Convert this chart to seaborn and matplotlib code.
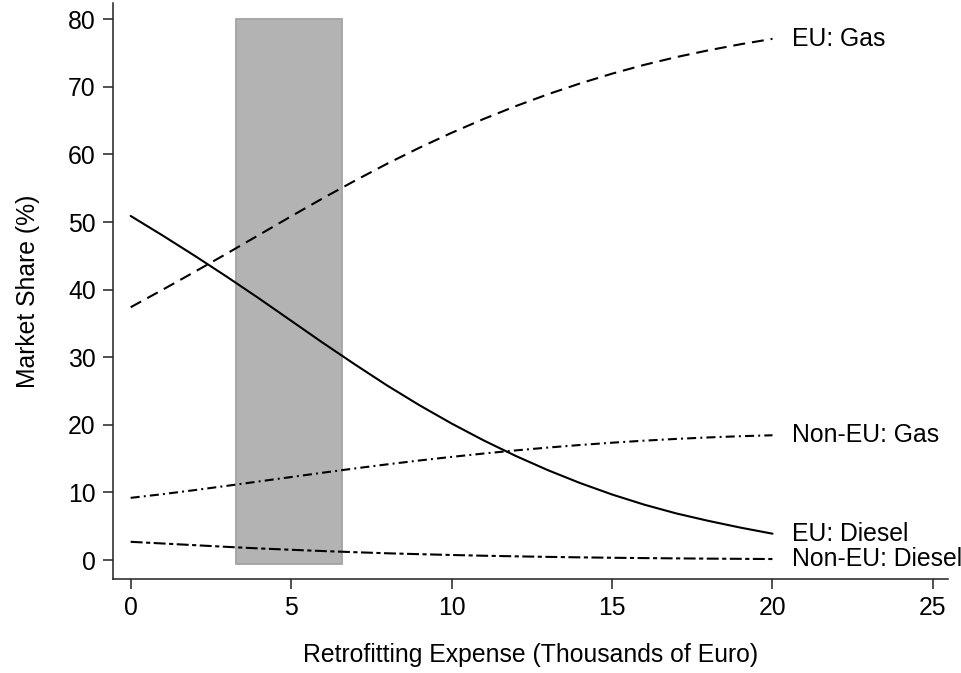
import matplotlib
matplotlib.use("Agg")
import matplotlib.pyplot as plt
from matplotlib.patches import Rectangle
import pandas as pd
import seaborn as sns

# Retrofitting expense grid (thousands of euro)
expense = list(range(0, 21))

# Simulated market shares (%)
eu_gas = [37.4, 40.0, 42.65, 45.35, 48.1, 50.85, 53.55, 56.15, 58.65, 61.0, 63.2,
          65.25, 67.15, 68.9, 70.5, 71.95, 73.25, 74.4, 75.4, 76.3, 77.1]
eu_diesel = [50.9, 48.0, 45.0, 41.9, 38.7, 35.4, 32.1, 28.9, 25.8, 22.9, 20.2,
             17.7, 15.4, 13.3, 11.4, 9.7, 8.2, 6.9, 5.8, 4.8, 3.9]
noneu_gas = [9.2, 9.75, 10.35, 10.98, 11.63, 12.28, 12.93, 13.56, 14.16, 14.73,
             15.26, 15.76, 16.22, 16.64, 17.02, 17.36, 17.66, 17.92, 18.14,
             18.32, 18.46]
noneu_diesel = [2.7, 2.45, 2.2, 1.95, 1.72, 1.52, 1.33, 1.16, 1.0, 0.87, 0.75,
                0.64, 0.55, 0.47, 0.40, 0.34, 0.29, 0.25, 0.21, 0.18, 0.15]

series_names = ["EU: Gas", "EU: Diesel", "Non-EU: Gas", "Non-EU: Diesel"]
series_values = [eu_gas, eu_diesel, noneu_gas, noneu_diesel]

# Shaded band of observed retrofitting costs
band_x = [3.27, 6.6]
band_y = [-0.6, 80]

x_ticks = [0, 5, 10, 15, 20, 25]
y_ticks = [0, 10, 20, 30, 40, 50, 60, 70, 80]

sns.set_theme(style="white")
plt.rcParams["font.family"] = ["Liberation Sans", "DejaVu Sans"]
plt.rcParams["lines.scale_dashes"] = False
plt.rcParams["text.color"] = "black"
plt.rcParams["axes.labelcolor"] = "black"
plt.rcParams["xtick.color"] = "black"
plt.rcParams["ytick.color"] = "black"

FS = 17.8

line_styles = {
    "EU: Gas": (0, (8.6, 5.0)),
    "EU: Diesel": "-",
    "Non-EU: Gas": (0, (6.5, 3.0, 1.4, 3.0)),
    "Non-EU: Diesel": (0, (8.6, 2.5, 3.0, 2.5)),
}

frames = [pd.DataFrame({"expense": expense, "share": v, "series": n})
          for n, v in zip(series_names, series_values)]
df = pd.concat(frames, ignore_index=True)

fig = plt.figure(figsize=(9.61, 6.73), dpi=100)
ax = fig.add_axes([0.1176, 0.1397, 0.8689, 0.8558])

ax.add_patch(Rectangle((band_x[0], band_y[0]), band_x[1] - band_x[0],
                       band_y[1] - band_y[0], facecolor="#b3b3b3",
                       edgecolor="#a3a3a3", linewidth=1.3, zorder=1))

for name in series_names:
    sub = df[df["series"] == name]
    sns.lineplot(data=sub, x="expense", y="share", ax=ax, color="black",
                 linewidth=1.5, linestyle=line_styles[name], zorder=3)
    ax.text(sub["expense"].iloc[-1] + 0.6, sub["share"].iloc[-1], name,
            fontsize=FS, va="center", ha="left", color="black", clip_on=False)

ax.set_xlim(-0.55, 25.47)
ax.set_ylim(-2.8, 82.4)
ax.set_xticks(x_ticks)
ax.set_yticks(y_ticks)
ax.set_xticklabels([str(t) for t in x_ticks])
ax.set_yticklabels([str(t) for t in y_ticks])

for side in ["top", "right"]:
    ax.spines[side].set_visible(False)
for side in ["left", "bottom"]:
    ax.spines[side].set_color("#222222")
    ax.spines[side].set_linewidth(1.1)

ax.tick_params(axis="both", which="major", direction="out", length=7,
               width=1.1, color="#222222", labelcolor="black", labelsize=FS,
               pad=5.5, bottom=True, left=True)
ax.set_xlabel("Retrofitting Expense (Thousands of Euro)", fontsize=FS,
              labelpad=16)
ax.set_ylabel("Market Share (%)", fontsize=FS, labelpad=20)
ax.grid(False)

fig.savefig("out.png", dpi=100)
